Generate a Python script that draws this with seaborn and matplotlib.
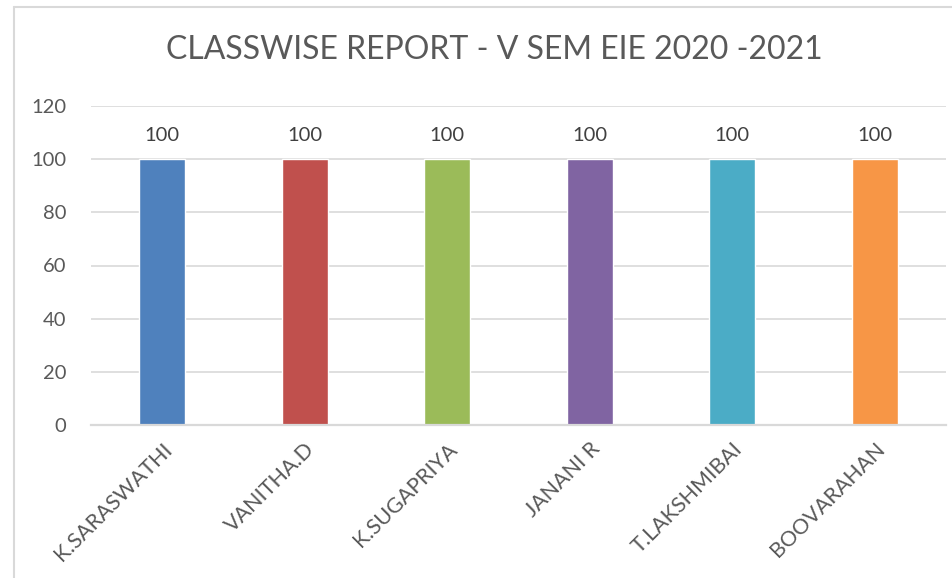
import matplotlib
matplotlib.use("Agg")
import matplotlib.pyplot as plt
from matplotlib.lines import Line2D
import seaborn as sns
import pandas as pd

# Pass percentage per faculty member
names = ["K.SARASWATHI", "VANITHA.D", "K.SUGAPRIYA", "JANANI R", "T.LAKSHMIBAI", "BOOVARAHAN"]
pass_pct = [100, 100, 100, 100, 100, 100]
colors = ["#4F81BD", "#C0504D", "#9BBB59", "#8064A2", "#4BACC6", "#F79646"]
y_ticks = [0, 20, 40, 60, 80, 100, 120]
title = "CLASSWISE REPORT - V SEM EIE 2020 -2021"

df = pd.DataFrame({"name": names, "pct": pass_pct})

sns.set_theme(style="white")
plt.rcParams["font.family"] = ["Lato", "DejaVu Sans"]

W, H = 953, 578
fig = plt.figure(figsize=(W / 100, H / 100), dpi=100)
ax = fig.add_axes([91 / W, 1 - 425 / H, (946 - 91) / W, (425 - 106) / H])

sns.barplot(data=df, x="name", y="pct", hue="name", palette=colors,
            width=0.32, legend=False, ax=ax, saturation=1)

text_col = "#595959"
grid_col = "#D9D9D9"

ax.set_ylim(0, 120)
ax.set_yticks(y_ticks)
ax.set_xlim(-0.5, len(names) - 0.5)
ax.yaxis.grid(True, color=grid_col, linewidth=1.2)
ax.set_axisbelow(True)
for s in ["top", "right", "left"]:
    ax.spines[s].set_visible(False)
ax.spines["bottom"].set_color(grid_col)
ax.spines["bottom"].set_linewidth(1.6)
ax.tick_params(axis="y", length=0, colors=text_col, labelsize=14.5, pad=18)
ax.tick_params(axis="x", length=0, colors=text_col, labelsize=15.5, pad=10)
ax.set_xlabel("")
ax.set_ylabel("")

for lbl in ax.get_xticklabels():
    lbl.set_rotation(45)
    lbl.set_ha("right")
    lbl.set_rotation_mode("anchor")
    lbl.set_color(text_col)

for c in ax.containers:
    ax.bar_label(c, fmt="%d", padding=11, color="#404040", fontsize=14.5)

fig.text(494 / W, 1 - 50 / H, title, ha="center", va="center",
         fontsize=23, color=text_col)

# Chart area outline
fig.add_artist(Line2D([14 / W, 14 / W], [0, 1 - 7 / H], transform=fig.transFigure,
                      color=grid_col, linewidth=1.5))
fig.add_artist(Line2D([14 / W, 1], [1 - 7 / H, 1 - 7 / H], transform=fig.transFigure,
                      color=grid_col, linewidth=1.5))

fig.savefig("out.png", dpi=100, facecolor="white")
